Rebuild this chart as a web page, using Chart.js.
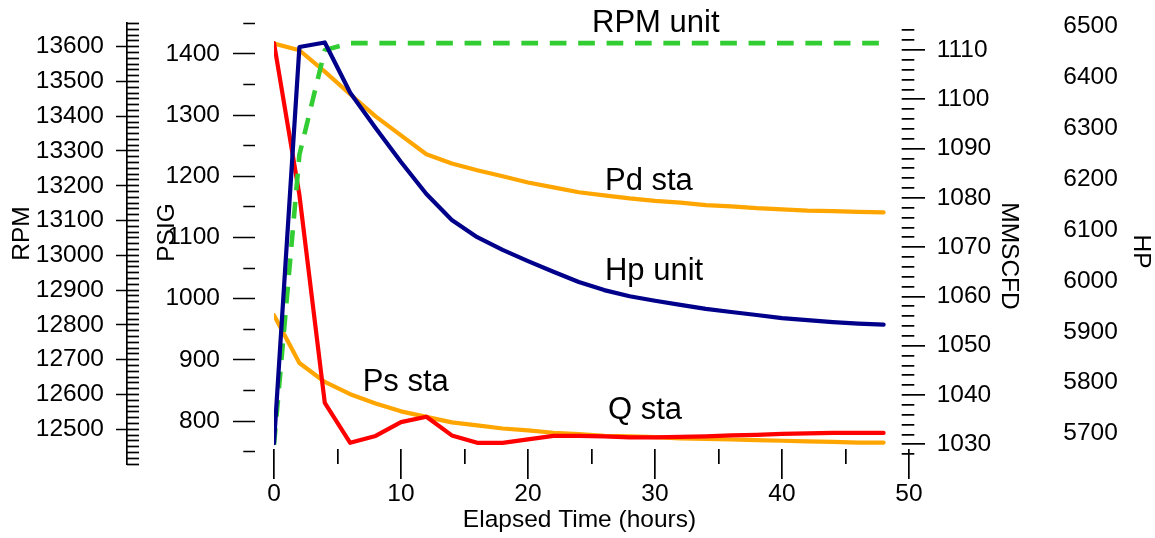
<!DOCTYPE html>
<html lang="en">
  <head>
    <meta charset="UTF-8" />
    <title>Station run - elapsed time</title>
    <script src="https://cdn.jsdelivr.net/npm/chart.js"></script>
    <style>
      html, body { margin: 0; padding: 0; background: #fff; }
    </style>
  </head>
  <body>
    <canvas id="runChart" width="1155" height="538"></canvas>

    <script>
      // elapsed time (hours)
      const hours = [0, 2, 4, 6, 8, 10, 12, 14, 16, 18, 20, 22, 24, 26, 28, 30, 32, 34, 36, 38, 40, 42, 44, 46, 48];

      // series
      const pdSta = [1417, 1406, 1371, 1334, 1298, 1267, 1236, 1221, 1210, 1200, 1190, 1182, 1174, 1169, 1164, 1160, 1157, 1153, 1151, 1148, 1146, 1144, 1143, 1142, 1141]; // PSIG
      const psSta = [973, 895, 864, 844, 829, 816, 807, 798, 793, 788, 785, 781, 779, 776, 775, 774, 772, 771, 770, 769, 768, 767, 766, 765, 765]; // PSIG
      const qSta = [1111.4, 1080.6, 1038.4, 1030.3, 1031.7, 1034.5, 1035.6, 1031.8, 1030.3, 1030.3, 1031.0, 1031.7, 1031.7, 1031.6, 1031.4, 1031.4, 1031.5, 1031.6, 1031.8, 1031.9, 1032.1, 1032.2, 1032.3, 1032.3, 1032.3]; // MMSCFD
      const rpmUnit = [12455, 13289, 13590, 13610, 13610, 13610, 13610, 13610, 13610, 13610, 13610, 13610, 13610, 13610, 13610, 13610, 13610, 13610, 13610, 13610, 13610, 13610, 13610, 13610, 13610]; // RPM
      const hpUnit = [5681, 6460, 6469, 6370, 6301, 6234, 6171, 6120, 6086, 6061, 6039, 6018, 5998, 5982, 5970, 5961, 5953, 5945, 5939, 5933, 5927, 5923, 5919, 5916, 5914]; // HP

      // axis ticks
      const xTicks = [0, 5, 10, 15, 20, 25, 30, 35, 40, 45, 50];
      const psigTicks = [750, 800, 850, 900, 950, 1000, 1050, 1100, 1150, 1200, 1250, 1300, 1350, 1400, 1450];
      const rpmLabels = [12500, 12600, 12700, 12800, 12900, 13000, 13100, 13200, 13300, 13400, 13500, 13600];
      const hpLabels = [5700, 5800, 5900, 6000, 6100, 6200, 6300, 6400, 6500];
      const mmscfdTicks = [];
      for (let v = 1028; v <= 1114; v += 2) mmscfdTicks.push(v);
      const rpmFine = [];
      for (let k = 0; k <= 76; k++) rpmFine.push(12400 + (k * 100) / 6);

      // curve labels (x in hours, y on the PSIG scale)
      const notes = [
        { text: "RPM unit", x: 25.04, y: 1436 },
        { text: "Pd sta", x: 26.06, y: 1178 },
        { text: "Hp unit", x: 26.06, y: 1031 },
        { text: "Ps sta", x: 6.98, y: 849 },
        { text: "Q sta", x: 26.3, y: 804 },
      ];

      const ink = "#000";
      const none = "rgba(0,0,0,0)";
      const family = "'Liberation Sans', Arial, sans-serif";
      const tickFont = { family: family, size: 24.5 };
      const thin = 1.7;

      function pts(values) {
        return hours.map((h, i) => ({ x: h, y: values[i] }));
      }
      function useTicks(values) {
        return (scale) => {
          scale.ticks = values.map((v) => ({ value: v }));
        };
      }
      function boxWidth(w) {
        return (scale) => {
          scale.width = w;
        };
      }
      const plain = (v) => String(v);
      const every = (n) => (v) => (v % n === 0 ? String(v) : "");
      const isMajor = (c, n) => c.tick && c.tick.value % n === 0;

      // titles and curve names
      const textPlugin = {
        id: "textPlugin",
        afterDraw(chart) {
          const c = chart.ctx;
          const put = (text, x, y, rot) => {
            c.save();
            c.translate(x, y);
            c.rotate(rot);
            c.fillText(text, 0, 0);
            c.restore();
          };
          c.save();
          c.fillStyle = ink;
          c.font = "24.5px " + family;
          c.textAlign = "center";
          c.textBaseline = "middle";
          put("RPM", 22.5, 233.5, -Math.PI / 2);
          put("PSIG", 167, 232.5, -Math.PI / 2);
          put("MMSCFD", 1008.5, 256, Math.PI / 2);
          put("HP", 1141, 251.5, Math.PI / 2);
          put("Elapsed Time (hours)", 579.5, 520, 0);

          c.font = "31px " + family;
          c.textAlign = "left";
          c.textBaseline = "alphabetic";
          const xs = chart.scales.x;
          const ys = chart.scales.psig;
          notes.forEach((n) => {
            c.fillText(n.text, xs.getPixelForValue(n.x), ys.getPixelForValue(n.y));
          });
          c.restore();
        },
      };

      const line = (label, values, color, axis, extra) =>
        Object.assign(
          {
            label: label,
            data: pts(values),
            yAxisID: axis,
            borderColor: color,
            borderWidth: 4.2,
            pointRadius: 0,
            tension: 0,
            borderJoinStyle: "round",
            borderCapStyle: "round",
          },
          extra || {}
        );

      new Chart(document.getElementById("runChart"), {
        type: "line",
        data: {
          datasets: [
            line("Hp unit", hpUnit, "#00008B", "hp"),
            line("RPM unit", rpmUnit, "#32CD32", "rpm", {
              borderDash: [16.7, 11.7],
              borderWidth: 4.6,
              borderCapStyle: "butt",
            }),
            line("Q sta", qSta, "#FF0000", "mmscfd"),
            line("Ps sta", psSta, "#FFA500", "psig"),
            line("Pd sta", pdSta, "#FFA500", "psig"),
          ],
        },
        options: {
          responsive: false,
          animation: false,
          layout: { autoPadding: false, padding: { top: 23, left: 0, right: 0, bottom: 0 } },
          plugins: { legend: { display: false }, tooltip: { enabled: false } },
          scales: {
            x: {
              type: "linear",
              position: "bottom",
              min: 0,
              max: 50,
              afterBuildTicks: useTicks(xTicks),
              afterFit: (s) => {
                s.height = 74;
              },
              grid: {
                drawOnChartArea: true,
                color: ink,
                lineWidth: thin,
                tickLength: 15,
                tickWidth: thin,
                tickColor: (c) => (isMajor(c, 10) ? ink : none),
              },
              // only the bottom 15px of each grid line shows, as a tick inside the plot
              border: { display: false, dash: [0, 426, 15, 1000] },
              ticks: {
                autoSkip: false,
                maxRotation: 0,
                color: ink,
                font: tickFont,
                padding: 1,
                callback: every(10),
              },
            },
            rpm: {
              type: "linear",
              position: "left",
              weight: 2,
              min: 12400,
              max: 13668,
              afterBuildTicks: useTicks(rpmLabels),
              afterFit: boxWidth(127),
              grid: {
                drawOnChartArea: false,
                tickLength: 23,
                tickColor: ink,
                tickWidth: thin,
                tickBorderDash: [0, 12, 11, 1000],
              },
              border: { display: true, color: ink, width: thin },
              ticks: { autoSkip: false, color: ink, font: tickFont, padding: 0, callback: plain },
            },
            rpmFine: {
              type: "linear",
              position: "left",
              weight: 1,
              min: 12400,
              max: 13668,
              afterBuildTicks: useTicks(rpmFine),
              afterFit: boxWidth(12),
              grid: { drawOnChartArea: false, tickLength: 12, tickColor: ink, tickWidth: thin },
              border: { display: false },
              ticks: { display: false, autoSkip: false, padding: 0 },
            },
            psig: {
              type: "linear",
              position: "left",
              weight: 0,
              min: 730,
              max: 1450.5,
              afterBuildTicks: useTicks(psigTicks),
              afterFit: boxWidth(135),
              grid: {
                drawOnChartArea: false,
                tickLength: 54,
                tickColor: ink,
                tickWidth: thin,
                tickBorderDash: (c) => (isMajor(c, 100) ? [0, 13, 22, 1000] : [0, 23.3, 11.7, 1000]),
              },
              border: { display: false },
              ticks: { autoSkip: false, color: ink, font: tickFont, padding: 0, callback: every(100) },
            },
            mmscfd: {
              type: "linear",
              position: "right",
              weight: 0,
              min: 1026,
              max: 1115.48,
              afterBuildTicks: useTicks(mmscfdTicks),
              afterFit: boxWidth(131),
              grid: {
                drawOnChartArea: true,
                color: ink,
                lineWidth: thin,
                tickLength: 27.7,
                tickColor: ink,
                tickWidth: thin,
                tickBorderDash: (c) => (isMajor(c, 10) ? [16, 1000] : [5.3, 1000]),
              },
              // ticks start a few px inside the plot
              border: { display: false, dash: [0, 627.7, 7.3, 1000] },
              ticks: { autoSkip: false, color: ink, font: tickFont, padding: 0, callback: every(10) },
            },
            hp: {
              type: "linear",
              position: "right",
              weight: 1,
              min: 5640,
              max: 6507.3,
              afterBuildTicks: useTicks(hpLabels),
              afterFit: boxWidth(115),
              grid: { drawOnChartArea: false, tickLength: 23.3, tickColor: none },
              border: { display: false },
              ticks: { autoSkip: false, color: ink, font: tickFont, padding: 0, callback: plain },
            },
          },
        },
        plugins: [textPlugin],
      });
    </script>
  </body>
</html>
